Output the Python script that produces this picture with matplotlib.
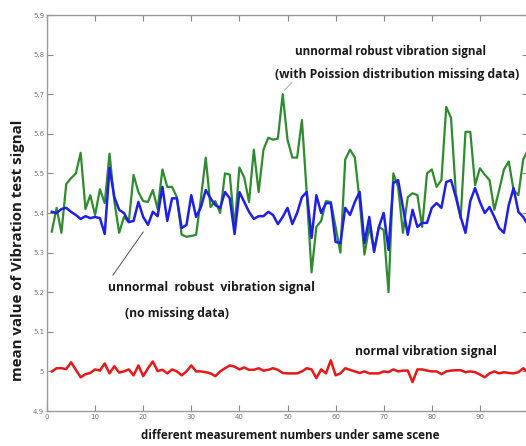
import numpy as np
import matplotlib
matplotlib.use('Agg')
import matplotlib.pyplot as plt

# measurement numbers
x_vals = list(range(1, 101))

# unnormal robust signal with Poission missing data (green)
green_vals = [5.353, 5.413, 5.350, 5.473, 5.488, 5.500, 5.552, 5.410, 5.445, 5.395,
              5.460, 5.425, 5.550, 5.430, 5.350, 5.390, 5.377, 5.496, 5.453, 5.430,
              5.428, 5.458, 5.410, 5.510, 5.466, 5.466, 5.440, 5.345, 5.340, 5.342,
              5.345, 5.437, 5.540, 5.415, 5.430, 5.400, 5.500, 5.497, 5.362, 5.515,
              5.490, 5.428, 5.560, 5.453, 5.560, 5.590, 5.585, 5.588, 5.700, 5.585,
              5.540, 5.540, 5.635, 5.450, 5.250, 5.365, 5.380, 5.430, 5.428, 5.365,
              5.300, 5.535, 5.560, 5.540, 5.430, 5.295, 5.365, 5.307, 5.365, 5.357,
              5.200, 5.500, 5.466, 5.350, 5.440, 5.450, 5.445, 5.365, 5.500, 5.510,
              5.466, 5.483, 5.668, 5.640, 5.450, 5.387, 5.605, 5.605, 5.470, 5.513,
              5.497, 5.483, 5.408, 5.458, 5.510, 5.530, 5.458, 5.445, 5.535, 5.560]

# unnormal robust signal, no missing data (blue)
blue_vals = [5.403, 5.400, 5.410, 5.413, 5.403, 5.395, 5.385, 5.392, 5.387, 5.390,
             5.387, 5.347, 5.514, 5.440, 5.408, 5.400, 5.377, 5.380, 5.428, 5.390,
             5.370, 5.403, 5.392, 5.466, 5.380, 5.437, 5.437, 5.362, 5.370, 5.445,
             5.390, 5.415, 5.458, 5.437, 5.420, 5.413, 5.453, 5.437, 5.347, 5.453,
             5.428, 5.403, 5.385, 5.392, 5.392, 5.403, 5.395, 5.372, 5.390, 5.413,
             5.372, 5.400, 5.440, 5.453, 5.337, 5.445, 5.400, 5.425, 5.425, 5.327,
             5.324, 5.413, 5.395, 5.428, 5.453, 5.324, 5.390, 5.302, 5.365, 5.400,
             5.307, 5.476, 5.483, 5.415, 5.345, 5.408, 5.365, 5.375, 5.375, 5.413,
             5.425, 5.413, 5.478, 5.483, 5.440, 5.390, 5.350, 5.430, 5.463, 5.428,
             5.400, 5.415, 5.390, 5.362, 5.350, 5.420, 5.463, 5.403, 5.390, 5.370]

# normal vibration signal (red)
red_vals = [5.000, 5.008, 5.008, 5.006, 5.023, 5.004, 4.985, 4.993, 4.996, 5.005,
            5.002, 5.020, 4.995, 5.013, 4.997, 5.000, 5.005, 4.990, 5.015, 4.988,
            5.008, 5.025, 5.001, 5.004, 4.995, 5.005, 5.000, 4.990, 5.000, 5.015,
            5.000, 5.000, 4.998, 4.995, 4.988, 5.000, 5.008, 5.015, 5.012, 5.005,
            5.010, 5.004, 5.004, 5.008, 5.002, 5.004, 5.008, 5.004, 4.996, 4.995,
            4.995, 4.995, 5.000, 5.008, 5.005, 4.983, 5.005, 4.995, 5.028, 4.990,
            4.995, 5.008, 5.004, 5.000, 4.996, 5.000, 4.995, 4.995, 4.995, 5.000,
            4.998, 5.005, 5.000, 5.002, 5.002, 4.973, 5.005, 5.005, 5.002, 5.000,
            5.000, 4.993, 5.000, 5.002, 5.003, 5.003, 4.998, 5.000, 4.998, 4.992,
            4.985, 4.995, 5.000, 4.995, 4.998, 4.996, 4.995, 4.998, 5.008, 4.998]

x_ticks = list(range(0, 100, 10))
y_ticks = [4.9, 5.0, 5.1, 5.2, 5.3, 5.4, 5.5, 5.6, 5.7, 5.8, 5.9]
y_ticklabels = ['4.9', '5', '5.1', '5.2', '5.3', '5.4', '5.5', '5.6', '5.7', '5.8', '5.9']


def main():
    fig = plt.figure(figsize=(5.26, 4.46), dpi=100)
    ax = fig.add_axes([47 / 526, 35 / 446, 481 / 526, 396 / 446])

    ax.plot(x_vals, green_vals, color='#2e8b2e', lw=1.6)
    ax.plot(x_vals, blue_vals, color='#1f1fe6', lw=1.8)
    ax.plot(x_vals, red_vals, color='#e81818', lw=1.8)

    ax.set_xlim(0, 100)
    ax.set_ylim(4.9, 5.9)
    ax.set_xticks(x_ticks)
    ax.set_yticks(y_ticks)
    ax.set_yticklabels(y_ticklabels)
    ax.tick_params(direction='in', top=True, right=True, length=4, width=0.8,
                   labelsize=5, colors='#888888', labelcolor='#777777', pad=2)
    for sp in ax.spines.values():
        sp.set_color('#999999')
        sp.set_linewidth(1.0)

    bold = dict(family='Open Sans', weight='bold', color='#1a1a1a')
    ax.set_xlabel('different measurement numbers under same scene', fontsize=8.4,
                  va='top', **bold)
    ax.xaxis.set_label_coords(0.505, -0.045)
    ax.set_ylabel('mean value of Vibration test signal', fontsize=10.8,
                  va='center', **bold)
    ax.yaxis.set_label_coords(-0.06, 0.407)

    # annotations
    ax.text(51.6, 5.807, 'unnormal robust vibration signal', fontsize=8.4,
            va='center', **bold)
    ax.text(47.4, 5.751, '(with Poission distribution missing data)', fontsize=8.7,
            va='center', **bold)
    ax.plot([50.9, 49.4], [5.73, 5.71], color='#a0b8a0', lw=0.8)

    ax.text(12.7, 5.213, 'unnormal  robust  vibration signal', fontsize=8.7,
            va='center', **bold)
    ax.text(16.2, 5.147, '(no missing data)', fontsize=8.7, va='center', **bold)
    ax.plot([20, 13.7], [5.352, 5.243], color='#555555', lw=0.7)

    ax.text(64.0, 5.049, 'normal vibration signal', fontsize=8.7, va='center', **bold)

    fig.savefig('out.png', dpi=100)


# run the program
if __name__ == "__main__":
    main()
